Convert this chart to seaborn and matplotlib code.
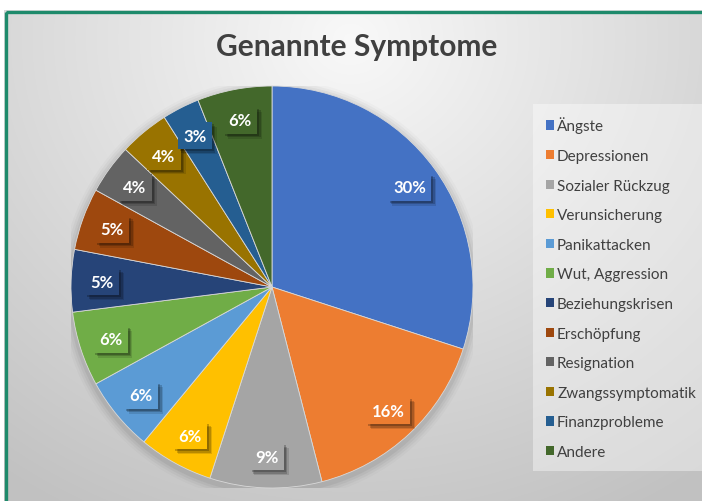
import numpy as np
import matplotlib
matplotlib.use("Agg")
import matplotlib.pyplot as plt
import matplotlib.patheffects as pe
from matplotlib.patches import Patch, Rectangle, Circle
import seaborn as sns

categories = ["Ängste", "Depressionen", "Sozialer Rückzug", "Verunsicherung",
              "Panikattacken", "Wut, Aggression", "Beziehungskrisen", "Erschöpfung",
              "Resignation", "Zwangssymptomatik", "Finanzprobleme", "Andere"]
values = [30, 16, 9, 6, 6, 6, 5, 5, 4, 4, 3, 6]
hex_colors = ["#4472C4", "#ED7D31", "#A5A5A5", "#FFC000", "#5B9BD5", "#70AD47",
              "#264478", "#9E480E", "#636363", "#997300", "#255E91", "#43682B"]
title = "Genannte Symptome"

sns.set_theme(style="white")
plt.rcParams["font.family"] = ["Lato", "DejaVu Sans"]
palette = sns.color_palette(hex_colors)

W, H = 702, 502
fig = plt.figure(figsize=(W / 100, H / 100), dpi=100)
fig.patch.set_facecolor("white")

# background gradient
bg = fig.add_axes([0, 0, 1, 1], zorder=0)
yy, xx = np.mgrid[0:H, 0:W]
d = np.sqrt(((xx - 350) / 520.0) ** 2 + ((yy - 40) / 470.0) ** 2)
g = np.clip(0.975 - 0.19 * d, 0.76, 1.0)
img = np.dstack([g, g, g])
img[:11, :, :] = 1.0
img[:, :4, :] = 1.0
bg.imshow(img, extent=[0, W, H, 0], aspect="auto", interpolation="bilinear")
bg.add_patch(Rectangle((5.5, 12.5), W + 10, H + 10, fill=False,
                       edgecolor="#1E8A6B", linewidth=2.4))
bg.set_xlim(0, W)
bg.set_ylim(H, 0)
bg.axis("off")

# pie
cx, cy, r = 272, 288, 201
ax = fig.add_axes([(cx - r) / W, (H - cy - r) / H, 2 * r / W, 2 * r / H], zorder=2)
ax.patch.set_alpha(0)

wedges, _ = ax.pie(values, colors=palette, startangle=90, counterclock=False,
                   radius=1.0, wedgeprops=dict(linewidth=0.6, edgecolor="#d9d9d9"))
for w in wedges:
    w.set_zorder(1)

# soft shadow behind pie
for rr, a in [(1.05, 0.02), (1.038, 0.03), (1.026, 0.04), (1.014, 0.05)]:
    ax.add_patch(Circle((0.0, -0.015), rr, color="black", alpha=a, lw=0, zorder=0))

ax.set_xlim(-1, 1)
ax.set_ylim(-1, 1)
ax.set_aspect("auto")
ax.axis("off")

start = 90.0
total = float(sum(values))
for v, col in zip(values, hex_colors):
    ang = start - 360.0 * v / total / 2
    start -= 360.0 * v / total
    x = 0.845 * np.cos(np.radians(ang))
    y = 0.845 * np.sin(np.radians(ang))
    t = ax.text(x, y, f"{v}%", ha="center", va="center", color="white",
                fontsize=12, fontweight="bold", zorder=5,
                bbox=dict(boxstyle="square,pad=0.33", facecolor=col, edgecolor="none"))
    t.get_bbox_patch().set_path_effects([
        pe.SimplePatchShadow(offset=(3.5, -3.5), shadow_rgbFace="black", alpha=0.12),
        pe.SimplePatchShadow(offset=(2.5, -2.5), shadow_rgbFace="black", alpha=0.18),
        pe.SimplePatchShadow(offset=(1.5, -1.5), shadow_rgbFace="black", alpha=0.22),
        pe.Normal()])

# title
fig.text(357 / W, 1 - 47 / H, title, ha="center", va="center",
         fontsize=21.5, fontweight="bold", color="#404040")

# legend
handles = [Patch(facecolor=c, edgecolor="none") for c in hex_colors]
leg = fig.legend(handles, categories, loc="upper left",
                 bbox_to_anchor=(538 / W, 1 - 110 / H), frameon=True,
                 fontsize=11, labelspacing=1.02, handlelength=0.55, handleheight=0.55,
                 handletextpad=0.2, borderpad=0.5, borderaxespad=0)
frame = leg.get_frame()
frame.set_facecolor("white")
frame.set_alpha(0.4)
frame.set_edgecolor("none")
frame.set_boxstyle("square")
for txt in leg.get_texts():
    txt.set_color("#404040")

fig.savefig("out.png", dpi=100)
